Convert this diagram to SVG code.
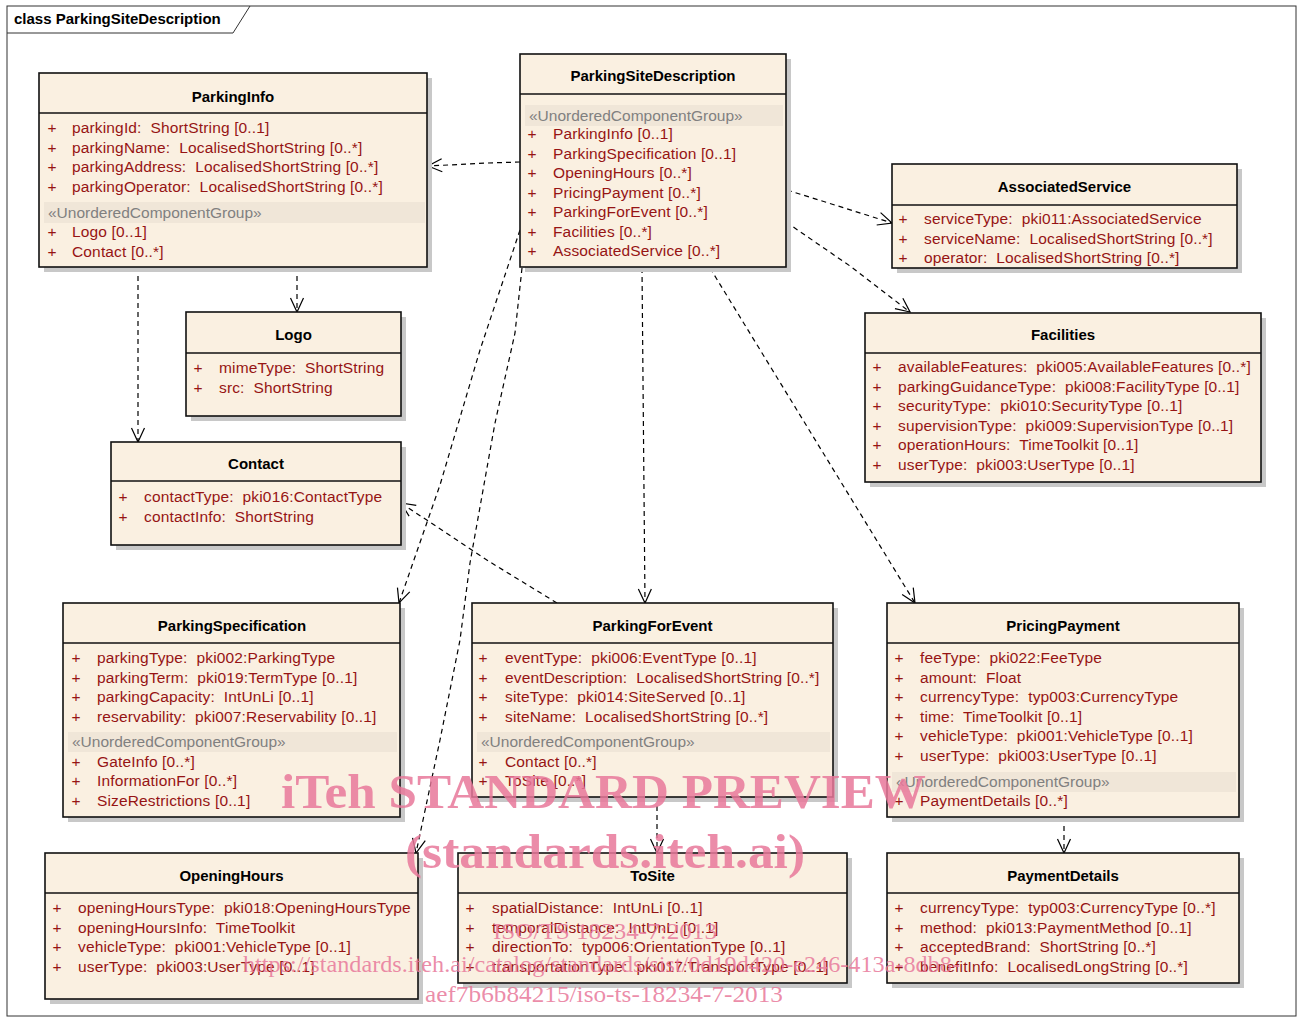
<svg xmlns="http://www.w3.org/2000/svg" width="1301" height="1023" viewBox="0 0 1301 1023">
<defs>
<style>
.frame{fill:none;stroke:#333;stroke-width:1}
.shadow{fill:#c8c8c8}
.box{fill:#FAF0E1;stroke:#111;stroke-width:1.6}
.hdr{stroke:#111;stroke-width:1.4}
.band{fill:#F0E6D8}
.title{font-family:"Liberation Sans",Arial,sans-serif;font-size:15px;font-weight:bold;fill:#000;text-anchor:middle}
.ftitle{font-family:"Liberation Sans",Arial,sans-serif;font-size:15px;font-weight:bold;fill:#000}
.attr{font-family:"Liberation Sans",Arial,sans-serif;font-size:15.5px;fill:#961414;white-space:pre;letter-spacing:0.15px}
.plus{font-family:"Liberation Sans",Arial,sans-serif;font-size:15.5px;fill:#961414;text-anchor:middle}
.st{font-family:"Liberation Sans",Arial,sans-serif;font-size:15.5px;fill:#808080}
.dep{fill:none;stroke:#000;stroke-width:1.2;stroke-dasharray:5,4;marker-end:url(#open)}
.wm{font-family:"Liberation Serif","Times New Roman",serif;fill:#e8789a;fill-opacity:0.85}
</style>
<marker id="open" markerUnits="userSpaceOnUse" markerWidth="18" markerHeight="16" viewBox="-1 -8 18 16" refX="15" refY="0" orient="auto">
<path d="M1,-6.5 L15,0 L1,6.5" fill="none" stroke="#000" stroke-width="1.2" stroke-dasharray="none"/>
</marker>
</defs>
<rect width="1301" height="1023" fill="#fff"/>
<g id="frame">
<rect class="frame" x="7" y="6" width="1289" height="1010"/>
<path class="frame" d="M7,33 H233 L250,6"/>
<text class="ftitle" x="14" y="24">class ParkingSiteDescription</text>
</g>

<g id="connectors">
<polyline class="dep" points="520,162 488,163 428,166"/>
<polyline class="dep" points="787,190 892,223"/>
<polyline class="dep" points="786,222 850,266 910,312"/>
<polyline class="dep" points="710,268 915,603"/>
<polyline class="dep" points="642,268 643,380 645,603"/>
<polyline class="dep" points="520,230 480,350 440,485 399,603"/>
<polyline class="dep" points="522,268 515,333 495,423 470,563 460,640 440,740 416,853"/>
<polyline class="dep" points="557,603 490,562 401,503"/>
<polyline class="dep" points="297,267 297,312"/>
<polyline class="dep" points="138,267 138,442"/>
<polyline class="dep" points="657,797 657,853"/>
<polyline class="dep" points="1064,817 1064,853"/>
</g>

<g id="ParkingInfo">
<rect class="shadow" x="44" y="78" width="388" height="194"/>
<rect class="box" x="39" y="73" width="388" height="194"/>
<line class="hdr" x1="39" y1="113" x2="427" y2="113"/>
<text class="title" x="233" y="102">ParkingInfo</text>
<text class="plus" x="52" y="133">+</text><text class="attr" x="72" y="133">parkingId:  ShortString [0..1]</text>
<text class="plus" x="52" y="152.5">+</text><text class="attr" x="72" y="152.5">parkingName:  LocalisedShortString [0..*]</text>
<text class="plus" x="52" y="172">+</text><text class="attr" x="72" y="172">parkingAddress:  LocalisedShortString [0..*]</text>
<text class="plus" x="52" y="191.5">+</text><text class="attr" x="72" y="191.5">parkingOperator:  LocalisedShortString [0..*]</text>
<rect class="band" x="44" y="202" width="381" height="21"/>
<text class="st" x="48" y="217.5">«UnorderedComponentGroup»</text>
<text class="plus" x="52" y="237">+</text><text class="attr" x="72" y="237">Logo [0..1]</text>
<text class="plus" x="52" y="256.5">+</text><text class="attr" x="72" y="256.5">Contact [0..*]</text>
</g>

<g id="ParkingSiteDescription">
<rect class="shadow" x="525" y="59" width="266" height="213"/>
<rect class="box" x="520" y="54" width="266" height="213"/>
<line class="hdr" x1="520" y1="94" x2="786" y2="94"/>
<text class="title" x="653" y="81">ParkingSiteDescription</text>
<rect class="band" x="525" y="105" width="258" height="21"/>
<text class="st" x="529" y="120.5">«UnorderedComponentGroup»</text>
<text class="plus" x="532" y="139">+</text><text class="attr" x="553" y="139">ParkingInfo [0..1]</text>
<text class="plus" x="532" y="158.5">+</text><text class="attr" x="553" y="158.5">ParkingSpecification [0..1]</text>
<text class="plus" x="532" y="178">+</text><text class="attr" x="553" y="178">OpeningHours [0..*]</text>
<text class="plus" x="532" y="197.5">+</text><text class="attr" x="553" y="197.5">PricingPayment [0..*]</text>
<text class="plus" x="532" y="217">+</text><text class="attr" x="553" y="217">ParkingForEvent [0..*]</text>
<text class="plus" x="532" y="236.5">+</text><text class="attr" x="553" y="236.5">Facilities [0..*]</text>
<text class="plus" x="532" y="256">+</text><text class="attr" x="553" y="256">AssociatedService [0..*]</text>
</g>

<g id="AssociatedService">
<rect class="shadow" x="897" y="169" width="345" height="104"/>
<rect class="box" x="892" y="164" width="345" height="104"/>
<line class="hdr" x1="892" y1="205" x2="1237" y2="205"/>
<text class="title" x="1064.5" y="192">AssociatedService</text>
<text class="plus" x="903" y="224">+</text><text class="attr" x="924" y="224">serviceType:  pki011:AssociatedService</text>
<text class="plus" x="903" y="243.5">+</text><text class="attr" x="924" y="243.5">serviceName:  LocalisedShortString [0..*]</text>
<text class="plus" x="903" y="263">+</text><text class="attr" x="924" y="263">operator:  LocalisedShortString [0..*]</text>
</g>

<g id="Facilities">
<rect class="shadow" x="870" y="318" width="396" height="169"/>
<rect class="box" x="865" y="313" width="396" height="169"/>
<line class="hdr" x1="865" y1="353" x2="1261" y2="353"/>
<text class="title" x="1063" y="340">Facilities</text>
<text class="plus" x="877" y="372">+</text><text class="attr" x="898" y="372">availableFeatures:  pki005:AvailableFeatures [0..*]</text>
<text class="plus" x="877" y="391.5">+</text><text class="attr" x="898" y="391.5">parkingGuidanceType:  pki008:FacilityType [0..1]</text>
<text class="plus" x="877" y="411">+</text><text class="attr" x="898" y="411">securityType:  pki010:SecurityType [0..1]</text>
<text class="plus" x="877" y="430.5">+</text><text class="attr" x="898" y="430.5">supervisionType:  pki009:SupervisionType [0..1]</text>
<text class="plus" x="877" y="450">+</text><text class="attr" x="898" y="450">operationHours:  TimeToolkit [0..1]</text>
<text class="plus" x="877" y="469.5">+</text><text class="attr" x="898" y="469.5">userType:  pki003:UserType [0..1]</text>
</g>

<g id="Logo">
<rect class="shadow" x="191" y="317" width="215" height="104"/>
<rect class="box" x="186" y="312" width="215" height="104"/>
<line class="hdr" x1="186" y1="353" x2="401" y2="353"/>
<text class="title" x="293.5" y="340">Logo</text>
<text class="plus" x="198" y="373">+</text><text class="attr" x="219" y="373">mimeType:  ShortString</text>
<text class="plus" x="198" y="392.5">+</text><text class="attr" x="219" y="392.5">src:  ShortString</text>
</g>

<g id="Contact">
<rect class="shadow" x="116" y="447" width="290" height="103"/>
<rect class="box" x="111" y="442" width="290" height="103"/>
<line class="hdr" x1="111" y1="481" x2="401" y2="481"/>
<text class="title" x="256" y="469">Contact</text>
<text class="plus" x="123" y="502">+</text><text class="attr" x="144" y="502">contactType:  pki016:ContactType</text>
<text class="plus" x="123" y="521.5">+</text><text class="attr" x="144" y="521.5">contactInfo:  ShortString</text>
</g>

<g id="ParkingSpecification">
<rect class="shadow" x="68" y="608" width="337" height="214"/>
<rect class="box" x="63" y="603" width="337" height="214"/>
<line class="hdr" x1="63" y1="643" x2="400" y2="643"/>
<text class="title" x="232" y="631">ParkingSpecification</text>
<text class="plus" x="76" y="663">+</text><text class="attr" x="97" y="663">parkingType:  pki002:ParkingType</text>
<text class="plus" x="76" y="682.5">+</text><text class="attr" x="97" y="682.5">parkingTerm:  pki019:TermType [0..1]</text>
<text class="plus" x="76" y="702">+</text><text class="attr" x="97" y="702">parkingCapacity:  IntUnLi [0..1]</text>
<text class="plus" x="76" y="721.5">+</text><text class="attr" x="97" y="721.5">reservability:  pki007:Reservability [0..1]</text>
<rect class="band" x="68" y="732" width="329" height="20"/>
<text class="st" x="72" y="747">«UnorderedComponentGroup»</text>
<text class="plus" x="76" y="766.5">+</text><text class="attr" x="97" y="766.5">GateInfo [0..*]</text>
<text class="plus" x="76" y="786">+</text><text class="attr" x="97" y="786">InformationFor [0..*]</text>
<text class="plus" x="76" y="805.5">+</text><text class="attr" x="97" y="805.5">SizeRestrictions [0..1]</text>
</g>

<g id="ParkingForEvent">
<rect class="shadow" x="477" y="608" width="361" height="194"/>
<rect class="box" x="472" y="603" width="361" height="194"/>
<line class="hdr" x1="472" y1="643" x2="833" y2="643"/>
<text class="title" x="652.5" y="631">ParkingForEvent</text>
<text class="plus" x="483" y="663">+</text><text class="attr" x="505" y="663">eventType:  pki006:EventType [0..1]</text>
<text class="plus" x="483" y="682.5">+</text><text class="attr" x="505" y="682.5">eventDescription:  LocalisedShortString [0..*]</text>
<text class="plus" x="483" y="702">+</text><text class="attr" x="505" y="702">siteType:  pki014:SiteServed [0..1]</text>
<text class="plus" x="483" y="721.5">+</text><text class="attr" x="505" y="721.5">siteName:  LocalisedShortString [0..*]</text>
<rect class="band" x="477" y="732" width="353" height="20"/>
<text class="st" x="481" y="747">«UnorderedComponentGroup»</text>
<text class="plus" x="483" y="766.5">+</text><text class="attr" x="505" y="766.5">Contact [0..*]</text>
<text class="plus" x="483" y="786">+</text><text class="attr" x="505" y="786">ToSite [0..*]</text>
</g>

<g id="PricingPayment">
<rect class="shadow" x="892" y="608" width="352" height="214"/>
<rect class="box" x="887" y="603" width="352" height="214"/>
<line class="hdr" x1="887" y1="643" x2="1239" y2="643"/>
<text class="title" x="1063" y="631">PricingPayment</text>
<text class="plus" x="899" y="663">+</text><text class="attr" x="920" y="663">feeType:  pki022:FeeType</text>
<text class="plus" x="899" y="682.5">+</text><text class="attr" x="920" y="682.5">amount:  Float</text>
<text class="plus" x="899" y="702">+</text><text class="attr" x="920" y="702">currencyType:  typ003:CurrencyType</text>
<text class="plus" x="899" y="721.5">+</text><text class="attr" x="920" y="721.5">time:  TimeToolkit [0..1]</text>
<text class="plus" x="899" y="741">+</text><text class="attr" x="920" y="741">vehicleType:  pki001:VehicleType [0..1]</text>
<text class="plus" x="899" y="760.5">+</text><text class="attr" x="920" y="760.5">userType:  pki003:UserType [0..1]</text>
<rect class="band" x="892" y="772" width="344" height="20"/>
<text class="st" x="896" y="786.5">«UnorderedComponentGroup»</text>
<text class="plus" x="899" y="806">+</text><text class="attr" x="920" y="806">PaymentDetails [0..*]</text>
</g>

<g id="OpeningHours">
<rect class="shadow" x="50" y="858" width="373" height="146"/>
<rect class="box" x="45" y="853" width="373" height="146"/>
<line class="hdr" x1="45" y1="893" x2="418" y2="893"/>
<text class="title" x="231.5" y="881">OpeningHours</text>
<text class="plus" x="57" y="913">+</text><text class="attr" x="78" y="913">openingHoursType:  pki018:OpeningHoursType</text>
<text class="plus" x="57" y="932.5">+</text><text class="attr" x="78" y="932.5">openingHoursInfo:  TimeToolkit</text>
<text class="plus" x="57" y="952">+</text><text class="attr" x="78" y="952">vehicleType:  pki001:VehicleType [0..1]</text>
<text class="plus" x="57" y="971.5">+</text><text class="attr" x="78" y="971.5">userType:  pki003:UserType [0..1]</text>
</g>

<g id="ToSite">
<rect class="shadow" x="463" y="858" width="389" height="130"/>
<rect class="box" x="458" y="853" width="389" height="130"/>
<line class="hdr" x1="458" y1="893" x2="847" y2="893"/>
<text class="title" x="652.5" y="881">ToSite</text>
<text class="plus" x="470" y="913">+</text><text class="attr" x="492" y="913">spatialDistance:  IntUnLi [0..1]</text>
<text class="plus" x="470" y="932.5">+</text><text class="attr" x="492" y="932.5">temporalDistance:  IntUnLi [0..1]</text>
<text class="plus" x="470" y="952">+</text><text class="attr" x="492" y="952">directionTo:  typ006:OrientationType [0..1]</text>
<text class="plus" x="470" y="971.5">+</text><text class="attr" x="492" y="971.5">transportationType:  pki017:TransportType [0..1]</text>
</g>

<g id="PaymentDetails">
<rect class="shadow" x="892" y="858" width="352" height="130"/>
<rect class="box" x="887" y="853" width="352" height="130"/>
<line class="hdr" x1="887" y1="893" x2="1239" y2="893"/>
<text class="title" x="1063" y="881">PaymentDetails</text>
<text class="plus" x="899" y="913">+</text><text class="attr" x="920" y="913">currencyType:  typ003:CurrencyType [0..*]</text>
<text class="plus" x="899" y="932.5">+</text><text class="attr" x="920" y="932.5">method:  pki013:PaymentMethod [0..1]</text>
<text class="plus" x="899" y="952">+</text><text class="attr" x="920" y="952">acceptedBrand:  ShortString [0..*]</text>
<text class="plus" x="899" y="971.5">+</text><text class="attr" x="920" y="971.5">benefitInfo:  LocalisedLongString [0..*]</text>
</g>

<g id="watermark">
<text class="wm" x="281" y="808" font-size="48" font-weight="bold" textLength="645" lengthAdjust="spacingAndGlyphs">iTeh STANDARD PREVIEW</text>
<text class="wm" x="405" y="868" font-size="48" font-weight="bold" textLength="400" lengthAdjust="spacingAndGlyphs">(standards.iteh.ai)</text>
<text class="wm" x="493" y="939" font-size="24" textLength="224" lengthAdjust="spacingAndGlyphs">ISO/TS 18234-7:2013</text>
<text class="wm" x="243" y="972" font-size="24" textLength="717" lengthAdjust="spacingAndGlyphs">https://standards.iteh.ai/catalog/standards/sist/0d19d420-e246-413a-8db8-</text>
<text class="wm" x="425" y="1002" font-size="24" textLength="358" lengthAdjust="spacingAndGlyphs">aef7b6b84215/iso-ts-18234-7-2013</text>
</g>
</svg>
